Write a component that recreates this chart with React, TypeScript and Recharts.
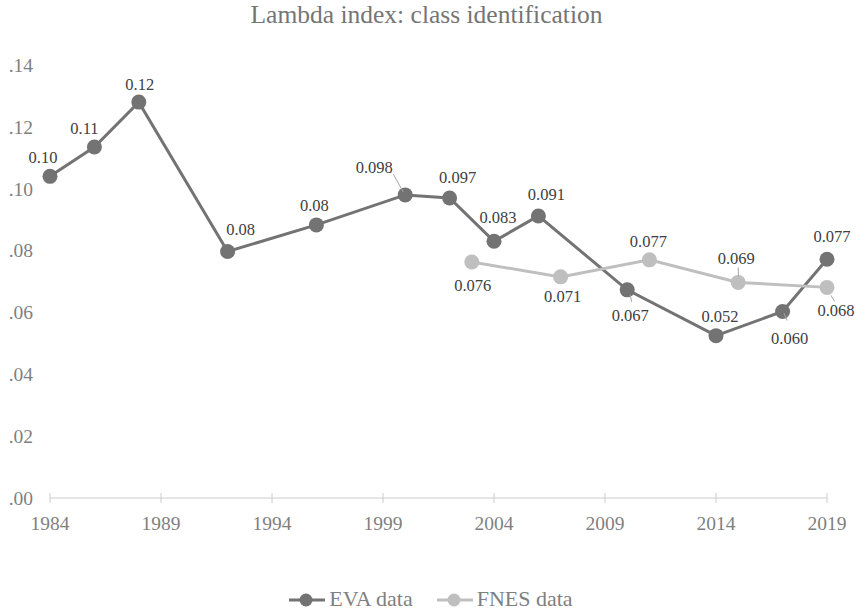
import { LineChart, Line, XAxis, YAxis, Legend } from 'recharts';

const evaYears = [1984, 1986, 1988, 1992, 1996, 2000, 2002, 2004, 2006, 2010, 2014, 2017, 2019];
const evaValues = [0.104, 0.1135, 0.128, 0.0797, 0.0883, 0.098, 0.097, 0.083, 0.0912, 0.0673, 0.0525, 0.0603, 0.0772];
const evaLabels = ['0.10', '0.11', '0.12', '0.08', '0.08', '0.098', '0.097', '0.083', '0.091', '0.067', '0.052', '0.060', '0.077'];

const fnesYears = [2003, 2007, 2011, 2015, 2019];
const fnesValues = [0.0763, 0.0715, 0.077, 0.0697, 0.0681];
const fnesLabels = ['0.076', '0.071', '0.077', '0.069', '0.068'];

const xTicks = [1984, 1989, 1994, 1999, 2004, 2009, 2014, 2019];
const yTicks = [0, 0.02, 0.04, 0.06, 0.08, 0.1, 0.12, 0.14];

// label placement around each point: [dx, dy of text centre, leader line or null]
type Pos = [number, number, number[] | null];
const evaLabelPos: Pos[] = [
  [-7, -19, null],
  [-10, -19, null],
  [1, -18, null],
  [13, -22, null],
  [-2, -20, null],
  [-31, -28, [-12, -21, -2, -3]],
  [8, -21, null],
  [4, -24, null],
  [8, -22, null],
  [3, 25, [3, 5, 4.5, 12]],
  [4, -20, null],
  [7, 26, [1.5, 2, 4.5, 9]],
  [5, -23, null],
];
const fnesLabelPos: Pos[] = [
  [1, 23, null],
  [2, 19, null],
  [-1, -19, null],
  [-2, -24, [0, -15, 0.3, -6]],
  [9, 23, [4, 8, 7.5, 14]],
];

const FONT = "'Liberation Serif', 'Times New Roman', serif";
const EVA_COLOR = '#737373';
const FNES_COLOR = '#bfbfbf';
const AXIS_TEXT = '#7f7f7f';

const evaData = evaYears.map((year, i) => ({ year, value: evaValues[i] }));
const fnesData = fnesYears.map((year, i) => ({ year, value: fnesValues[i] }));

const makeLabel = (labels: string[], pos: Pos[]) => (props: any) => {
  const index = props.index;
  const x = props.x ?? props.viewBox?.x;
  const y = props.y ?? props.viewBox?.y;
  if (index == null || x == null || y == null) return null;
  const [dx, dy, leader] = pos[index];
  return (
    <g key={`lbl-${index}`}>
      {leader && (
        <line
          x1={x + leader[0]}
          y1={y + leader[1]}
          x2={x + leader[2]}
          y2={y + leader[3]}
          stroke="#a6a6a6"
          strokeWidth={1}
        />
      )}
      <text x={x + dx} y={y + dy + 6} textAnchor="middle" style={{ fontSize: 16.5, fontFamily: FONT }} fill="#404040">
        {labels[index]}
      </text>
    </g>
  );
};

const XTick = ({ x, y, payload }: any) => (
  <g>
    <line x1={x} x2={x} y1={y - 5} y2={y + 5} stroke="#cccccc" strokeWidth={1} />
    <text x={x} y={y + 32} textAnchor="middle" style={{ fontSize: 19.5, fontFamily: FONT }} fill={AXIS_TEXT}>
      {payload.value}
    </text>
  </g>
);

const LegendItem = ({ color, text }: { color: string; text: string }) => (
  <span style={{ display: 'inline-flex', alignItems: 'center', margin: '0 12px' }}>
    <svg width={36} height={28} style={{ marginRight: 4 }}>
      <line x1={0} x2={36} y1={15} y2={15} stroke={color} strokeWidth={3} />
      <circle cx={17} cy={15} r={6.5} fill={color} />
    </svg>
    <span>{text}</span>
  </span>
);

export default function App() {
  return (
    <div style={{ position: 'absolute', left: 0, top: 0, width: 862, height: 613, fontFamily: FONT, background: '#fff' }}>
      <div
        style={{
          position: 'absolute',
          top: 2,
          left: 0,
          width: 853,
          textAlign: 'center',
          fontSize: 25.5,
          lineHeight: '25px',
          color: '#757575',
        }}
      >
        Lambda index: class identification
      </div>
      <LineChart width={862} height={613} margin={{ top: 65, right: 35, bottom: 75, left: 0 }} style={{ fontFamily: FONT }}>
        <XAxis
          dataKey="year"
          type="number"
          domain={[1984, 2019]}
          ticks={xTicks}
          interval={0}
          height={40}
          tickSize={0}
          tickMargin={0}
          tickLine={false}
          axisLine={{ stroke: '#cccccc', strokeWidth: 1 }}
          tick={<XTick />}
          allowDuplicatedCategory={false}
        />
        <YAxis
          type="number"
          domain={[0, 0.14]}
          ticks={yTicks}
          interval={0}
          width={50}
          axisLine={false}
          tickLine={false}
          tickMargin={11}
          tick={{ fontSize: 19.5, fontFamily: FONT, fill: AXIS_TEXT, style: { fontFamily: FONT } }}
          tickFormatter={(v: number) => v.toFixed(2).replace(/^0/, '')}
        />
        <Legend
          verticalAlign="middle"
          align="center"
          wrapperStyle={{ top: 585, left: 0, width: 862, height: 28 }}
          content={() => (
            <div style={{ display: 'flex', justifyContent: 'center', fontSize: 22, lineHeight: '28px', color: AXIS_TEXT, fontFamily: FONT }}>
              <LegendItem color={EVA_COLOR} text="EVA data" />
              <LegendItem color={FNES_COLOR} text="FNES data" />
            </div>
          )}
        />
        <Line
          data={evaData}
          dataKey="value"
          name="EVA data"
          stroke={EVA_COLOR}
          strokeWidth={3}
          dot={{ r: 7.5, fill: EVA_COLOR, stroke: 'none' }}
          activeDot={false}
          isAnimationActive={false}
          label={makeLabel(evaLabels, evaLabelPos)}
        />
        <Line
          data={fnesData}
          dataKey="value"
          name="FNES data"
          stroke={FNES_COLOR}
          strokeWidth={3}
          dot={{ r: 7.5, fill: FNES_COLOR, stroke: 'none' }}
          activeDot={false}
          isAnimationActive={false}
          label={makeLabel(fnesLabels, fnesLabelPos)}
        />
      </LineChart>
    </div>
  );
}
